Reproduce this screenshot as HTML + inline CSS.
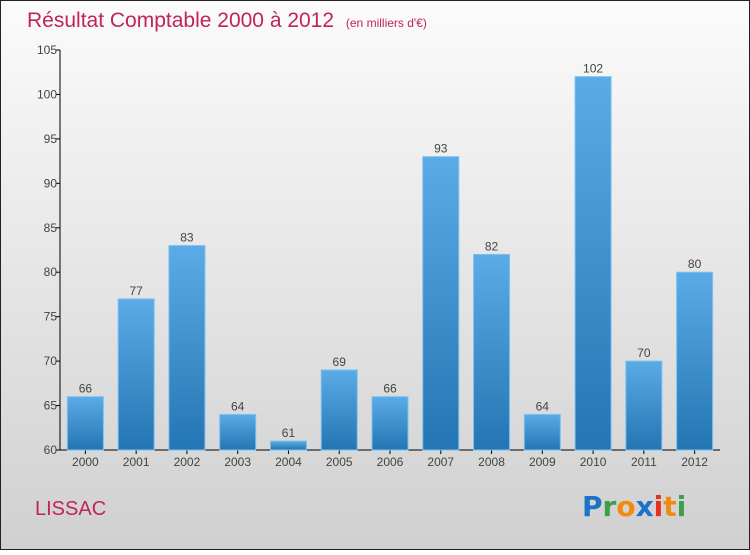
<!DOCTYPE html>
<html><head><meta charset="utf-8"><style>
body{margin:0;width:750px;height:550px;overflow:hidden;font-family:"Liberation Sans",sans-serif}
</style></head><body>
<svg id="c" width="750" height="550" xmlns="http://www.w3.org/2000/svg">
<defs>
<linearGradient id="bg" x1="0" y1="0" x2="0" y2="1"><stop offset="0" stop-color="#fbfbfb"/><stop offset="1" stop-color="#d0d0d0"/></linearGradient>
<linearGradient id="bar" x1="0" y1="0" x2="0" y2="1"><stop offset="0" stop-color="#5aabe6"/><stop offset="1" stop-color="#2475b3"/></linearGradient>
</defs>
<rect x="0.5" y="0.5" width="749" height="549" fill="url(#bg)" stroke="#222"/>
<text x="27" y="27" font-size="21" fill="#c0245a">Résultat Comptable 2000 à 2012 <tspan font-size="12" dx="6">(en milliers d'€)</tspan></text>
<g id="axes"></g><g id="bars"></g>
<text x="35" y="515" font-size="20" fill="#c0245a">LISSAC</text>
<g font-size="28" font-weight="bold" font-family="'DejaVu Sans',sans-serif">
<text x="582" y="516" fill="#1a73c8">P<tspan fill="#3aa04a">r</tspan><tspan fill="#f08a10">o</tspan><tspan fill="#1a73c8">x</tspan><tspan fill="#e83020">i</tspan><tspan fill="#f08a10">t</tspan><tspan fill="#3aa04a">i</tspan></text>
</g>
</svg>
<script>
const years=["2000","2001","2002","2003","2004","2005","2006","2007","2008","2009","2010","2011","2012"];
const values=[66,77,83,64,61,69,66,93,82,64,102,70,80];
const yTicks=[60,65,70,75,80,85,90,95,100,105];
const NS="http://www.w3.org/2000/svg";
const x0=60,x1=720,yTop=50,yBot=450,vMin=60,vMax=105;
const y=v=>yBot-(v-vMin)/(vMax-vMin)*(yBot-yTop);
const step=(x1-x0)/years.length;
const xc=i=>x0+step*(i+0.5);
function mk(t,a,p){const e=document.createElementNS(NS,t);for(const k in a)e.setAttribute(k,a[k]);p.appendChild(e);return e;}
const ax=document.getElementById('axes'),bs=document.getElementById('bars');
const yl=mk('line',{x1:x0,y1:yTop,x2:x0,y2:yBot,stroke:'#000'},ax);


const xl=mk('line',{x1:x0,y1:yBot,x2:x1,y2:yBot,stroke:'#000'},ax);


yTicks.forEach(v=>{
 mk('line',{x1:x0-4,y1:y(v),x2:x0,y2:y(v),stroke:'#000'},ax);
 const t=mk('text',{x:x0-3,y:y(v)+4,'font-size':12,fill:'#444','text-anchor':'end'},ax);
 t.textContent=v;
 
 
});
years.forEach((yr,i)=>{
 const v=values[i],w=36;
 const r=mk('rect',{x:xc(i)-w/2,y:y(v),width:w,height:yBot-y(v),fill:'url(#bar)',stroke:'#7cc0f0','stroke-width':1},bs);
 
 
 mk('line',{x1:xc(i),y1:yBot,x2:xc(i),y2:yBot+4,stroke:'#000'},ax);
 const t=mk('text',{x:xc(i),y:yBot+16,'font-size':12,fill:'#444','text-anchor':'middle'},ax);
 t.textContent=yr;
 
 
 const l=mk('text',{x:xc(i),y:y(v)-4,'font-size':12,fill:'#444','text-anchor':'middle'},bs);
 l.textContent=v;
 
 
});
</script>
</body></html>
